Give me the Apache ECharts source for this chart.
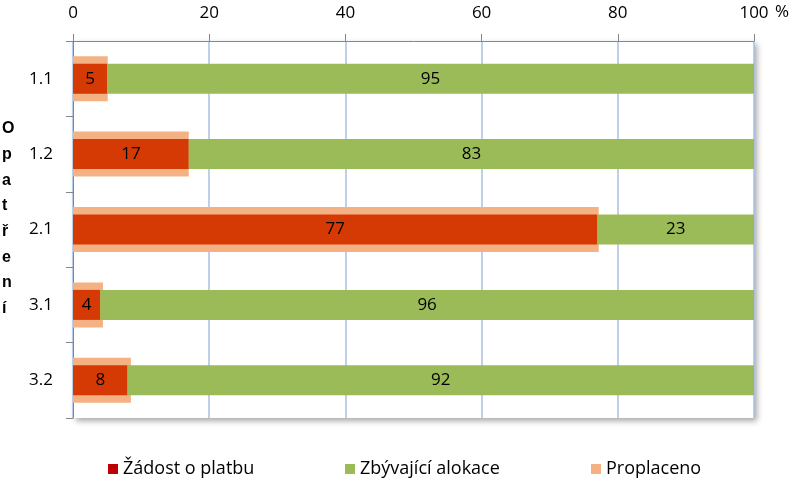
<!DOCTYPE html>
<html><head><meta charset="utf-8">
<script src="https://cdn.jsdelivr.net/npm/echarts@6/dist/echarts.min.js"></script>
<style>html,body{margin:0;padding:0;background:#fff}#c{width:796px;height:483px}</style>
</head><body><div id="c"></div>
<script>
const categories = ['1.1', '1.2', '2.1', '3.1', '3.2'];
const zadost = [5, 17, 77, 4, 8];
const zbyvajici = [95, 83, 23, 96, 92];
const proplaceno = [5.1, 17, 77.2, 4.4, 8.5];
const xTicks = [0, 20, 40, 60, 80, 100];

const FONT = "'Open Sans', sans-serif";
const chart = echarts.init(document.getElementById('c'), null, {renderer: 'canvas'});
const labelStyle = {show: true, position: 'inside', color: '#000', fontSize: 17, fontFamily: FONT};
chart.setOption({
  animation: false,
  textStyle: {fontFamily: FONT},
  grid: {left: 73, right: 42, top: 41, bottom: 65, show: true, borderWidth: 0, backgroundColor: '#fff',
         shadowColor: 'rgba(0,0,0,0.35)', shadowBlur: 6, shadowOffsetX: 3, shadowOffsetY: 3},
  xAxis: {type: 'value', position: 'top', min: xTicks[0], max: xTicks[xTicks.length-1], interval: 20,
    axisLine: {show: true, lineStyle: {color: '#868686'}},
    axisTick: {show: true, length: 7, lineStyle: {color: '#868686'}},
    splitLine: {show: true, lineStyle: {color: '#A9BFE3', width: 1.5}},
    axisLabel: {fontSize: 17, color: '#000', margin: 19, fontFamily: FONT}},
  yAxis: [
    {type: 'category', data: categories, inverse: true,
     axisLine: {show: true, lineStyle: {color: '#868686'}},
     axisTick: {show: true, length: 7, alignWithLabel: false, lineStyle: {color: '#868686'}},
     axisLabel: {fontSize: 17, color: '#000', margin: 20, fontFamily: FONT}},
    {type: 'category', data: categories, inverse: true, show: false}
  ],
  legend: [
    {left: 103, top: 455, itemWidth: 10, itemHeight: 10, icon: 'rect', itemGap: 0,
     textStyle: {fontSize: 18, color: '#000', fontFamily: FONT},
     data: [{name: 'Žádost o platbu', itemStyle: {color: '#C00000'}}]},
    {left: 340, top: 455, itemWidth: 10, itemHeight: 10, icon: 'rect',
     textStyle: {fontSize: 18, color: '#000', fontFamily: FONT},
     data: ['Zbývající alokace']},
    {left: 586, top: 455, itemWidth: 10, itemHeight: 10, icon: 'rect',
     textStyle: {fontSize: 18, color: '#000', fontFamily: FONT},
     data: ['Proplaceno']}
  ],
  graphic: [
    {type: 'text', left: 775, top: 4, style: {text: '%', fontSize: 17, fill: '#000', fontFamily: FONT}},
    {type: 'text', left: 2, top: 116, style: {text: 'O\np\na\nt\nř\ne\nn\ní', fontSize: 16, fontWeight: 'bold',
      lineHeight: 25.7, align: 'center', fill: '#000', fontFamily: "'Liberation Sans', sans-serif", width: 14}}
  ],
  series: [
    {name: 'Proplaceno', type: 'bar', yAxisIndex: 1, data: proplaceno, barWidth: 45,
     itemStyle: {color: '#F4B183'}},
    {name: 'Žádost o platbu', type: 'bar', stack: 'a', data: zadost, barWidth: 30,
     itemStyle: {color: '#D63A04'}, label: labelStyle},
    {name: 'Zbývající alokace', type: 'bar', stack: 'a', data: zbyvajici, barWidth: 30,
     itemStyle: {color: '#9BBB59'}, label: labelStyle}
  ]
});
</script></body></html>
